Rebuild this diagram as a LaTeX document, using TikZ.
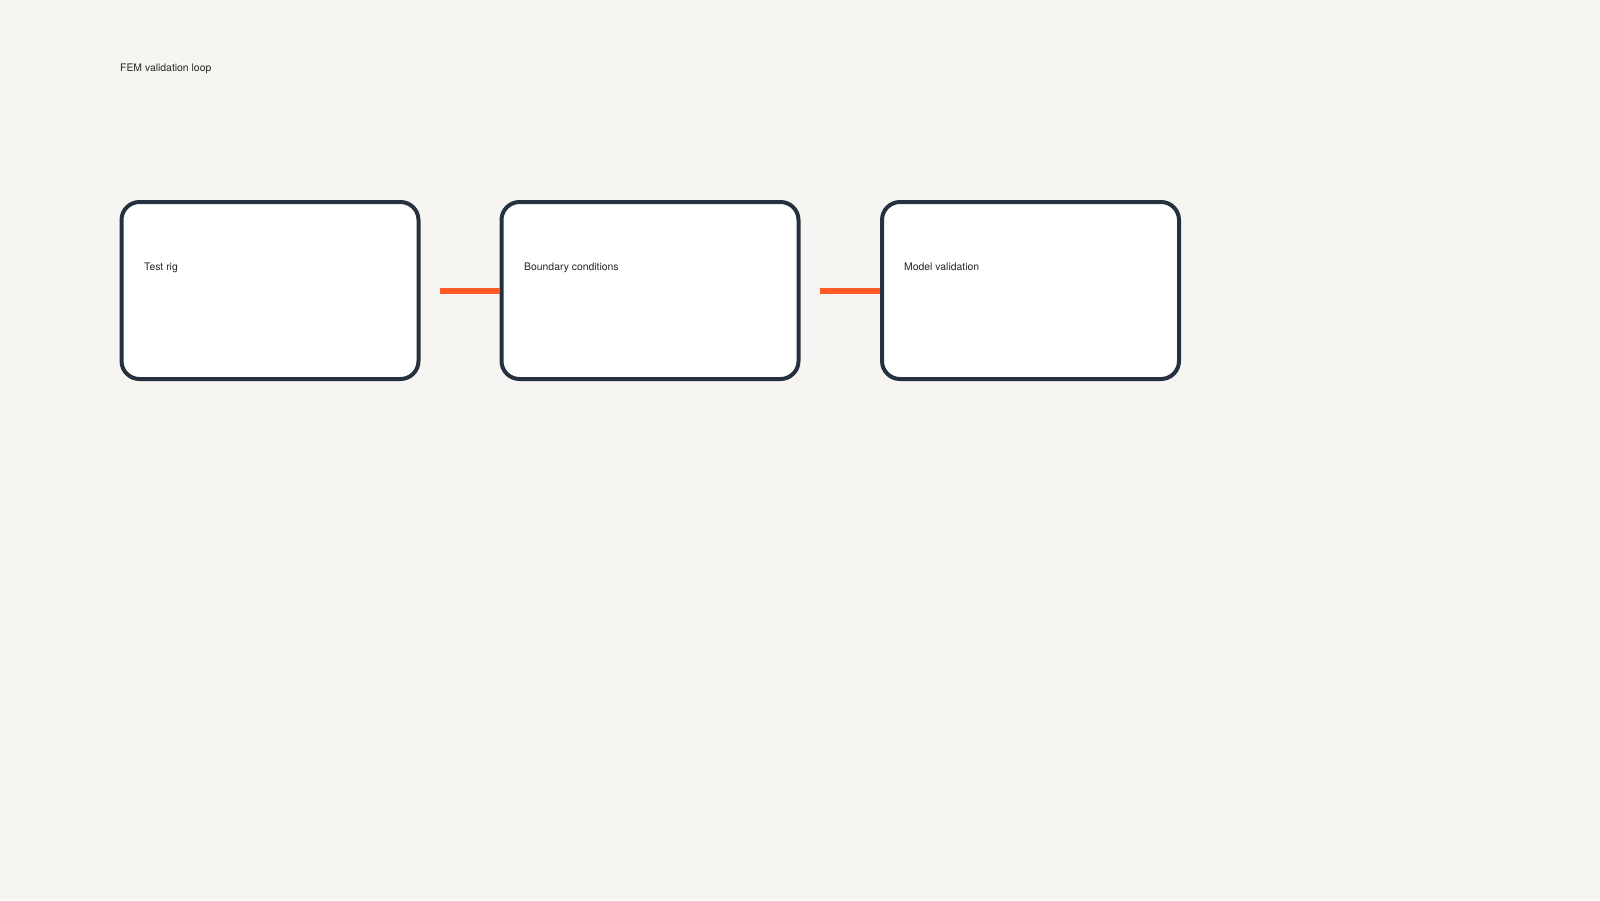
\documentclass[tikz,border=0pt]{standalone}
\usepackage{fontspec}
\setmainfont{TeX Gyre Heros}
\usepackage{tikz}
\usetikzlibrary{positioning}

\definecolor{paper}{HTML}{F7F5F1}
\definecolor{slate}{HTML}{263140}
\definecolor{flame}{HTML}{FF5A26}

\tikzset{
  stage/.style={draw=slate, line width=4pt, fill=white, rounded corners=18pt,
    minimum width=297pt, minimum height=177pt},
  caption/.style={anchor=base west, inner sep=0pt, font=\fontsize{10.4}{12}\selectfont, text=black!85},
  link/.style={draw=flame, line width=6pt}
}

\begin{document}
\begin{tikzpicture}[x=1pt, y=-1pt]
        \fill[paper] (0,0) rectangle (1600,900);
        \useasboundingbox (0,0) rectangle (1600,900);

        \node[caption] (title) at (120,71.5) {FEM validation loop};

        \node[stage] (rig) at (270,290.5) {};
        \node[stage] (bc) at (650,290.5) {};
        \node[stage] (valid) at (1030.5,290.5) {};

        \node[caption] (rigtxt) at (144,270.5) {Test rig};
        \node[caption] (bctxt) at (524,270.5) {Boundary conditions};
        \node[caption] (validtxt) at (904,270.5) {Model validation};

        \coordinate (gap1) at (440,290.5);
        \coordinate (gap2) at (820,290.5);
        \draw[link] (gap1) -- (bc.west);
        \draw[link] (gap2) -- (valid.west);
    \end{tikzpicture}
\end{document}
